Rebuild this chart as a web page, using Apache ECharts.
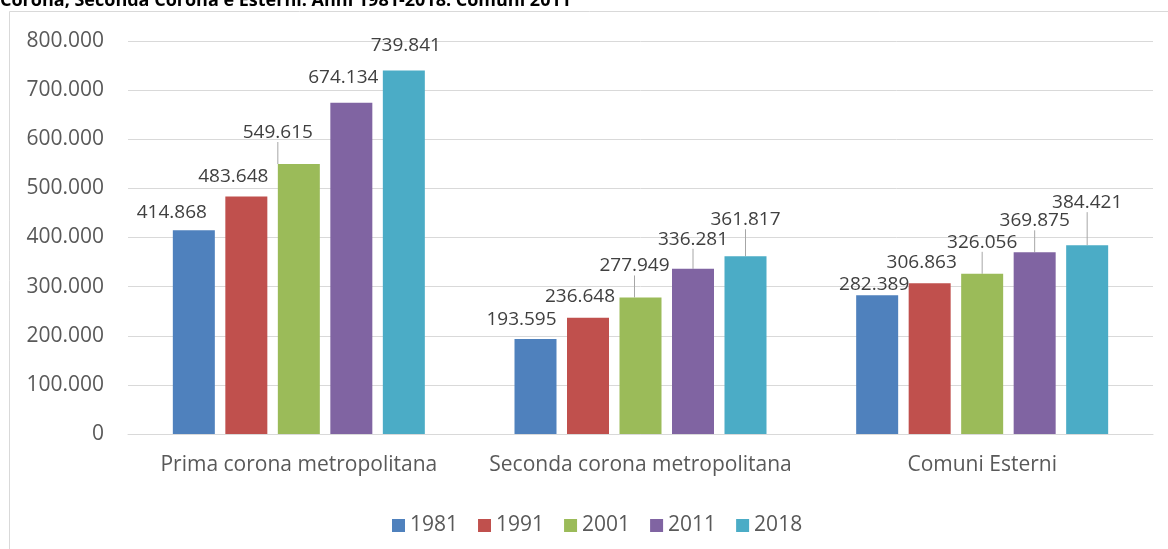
<!DOCTYPE html>
<html>
<head>
<meta charset="utf-8">
<script src="https://cdn.jsdelivr.net/npm/echarts@6/dist/echarts.min.js"></script>
<style>
  html, body { margin: 0; padding: 0; background: #fff; }
  #chart { width: 1168px; height: 549px; }
</style>
</head>
<body>
<div id="chart"></div>
<script>
const categories = ['Prima corona metropolitana', 'Seconda corona metropolitana', 'Comuni Esterni']
const years = ['1981', '1991', '2001', '2011', '2018']
const values1981 = [414868, 193595, 282389]
const values1991 = [483648, 236648, 306863]
const values2001 = [549615, 277949, 326056]
const values2011 = [674134, 336281, 369875]
const values2018 = [739841, 361817, 384421]
const yTicks = [0, 100000, 200000, 300000, 400000, 500000, 600000, 700000, 800000]

const colors = ['#4f81bd', '#c0504d', '#9bbb59', '#8064a2', '#4bacc6']
const seriesValues = [values1981, values1991, values2001, values2011, values2018]

// where the Excel labels sit relative to the default "top" spot: [dx, dy, leader line]
const labelShift = [
  [[-22, -3, false], [-14, -5, false], [-3, 4, false]],
  [[-13, -5, false], [-8, -7, false], [-8, -6, false]],
  [[-21, -17, true], [-6, -17, true], [0, -17, true]],
  [[-8, -11, false], [0, -15, true], [0, -17, true]],
  [[2, -10, false], [0, -22, true], [0, -28, true]]
]

function fmt(v) {
  return String(v).replace(/\B(?=(\d{3})+(?!\d))/g, '.')
}

const font = 'Open Sans'

const chart = echarts.init(document.getElementById('chart'))
chart.setOption({
  animation: false,
  textStyle: { fontFamily: font },
  graphic: [
    {
      type: 'rect',
      shape: { x: 9.5, y: 11.5, width: 1200, height: 600 },
      style: { fill: 'none', stroke: '#d9d9d9', lineWidth: 1 },
      silent: true
    },
    {
      type: 'text',
      left: 0,
      top: -8,
      style: {
        text: 'Corona, Seconda Corona e Esterni. Anni 1981-2018. Comuni 2011',
        font: 'bold 18px "Open Sans"',
        fill: '#000'
      }
    }
  ],
  legend: {
    data: years,
    left: 387,
    top: 510,
    itemWidth: 13,
    itemHeight: 13,
    itemGap: 20,
    icon: 'rect',
    textStyle: { color: '#595959', fontSize: 21, fontFamily: font }
  },
  grid: { left: 128, right: 15, top: 41, bottom: 115 },
  xAxis: {
    type: 'category',
    data: categories,
    axisTick: { show: false },
    axisLine: { lineStyle: { color: '#d9d9d9', width: 1 } },
    axisLabel: { color: '#595959', fontSize: 21, margin: 21, interval: 0, fontFamily: font }
  },
  yAxis: {
    type: 'value',
    min: yTicks[0],
    max: yTicks[yTicks.length - 1],
    interval: yTicks[1] - yTicks[0],
    axisLine: { show: false },
    axisTick: { show: false },
    splitLine: { lineStyle: { color: '#d9d9d9', width: 1 } },
    axisLabel: {
      color: '#595959',
      fontSize: 21,
      margin: 24,
      fontFamily: font,
      formatter: v => fmt(v)
    }
  },
  series: years.map((y, si) => ({
    name: y,
    type: 'bar',
    barWidth: 42,
    barGap: '25%',
    itemStyle: { color: colors[si] },
    label: {
      show: true,
      position: 'top',
      color: '#404040',
      fontSize: 19,
      fontFamily: font,
      formatter: p => fmt(p.value)
    },
    labelLine: { show: true, lineStyle: { color: '#a6a6a6', width: 1 } },
    labelLayout: p => {
      const s = labelShift[p.seriesIndex][p.dataIndex]
      return { dx: s[0], dy: s[1] }
    },
    data: seriesValues[si].map((v, di) => ({
      value: v,
      labelLine: { show: labelShift[si][di][2] }
    }))
  }))
})
</script>
</body>
</html>
